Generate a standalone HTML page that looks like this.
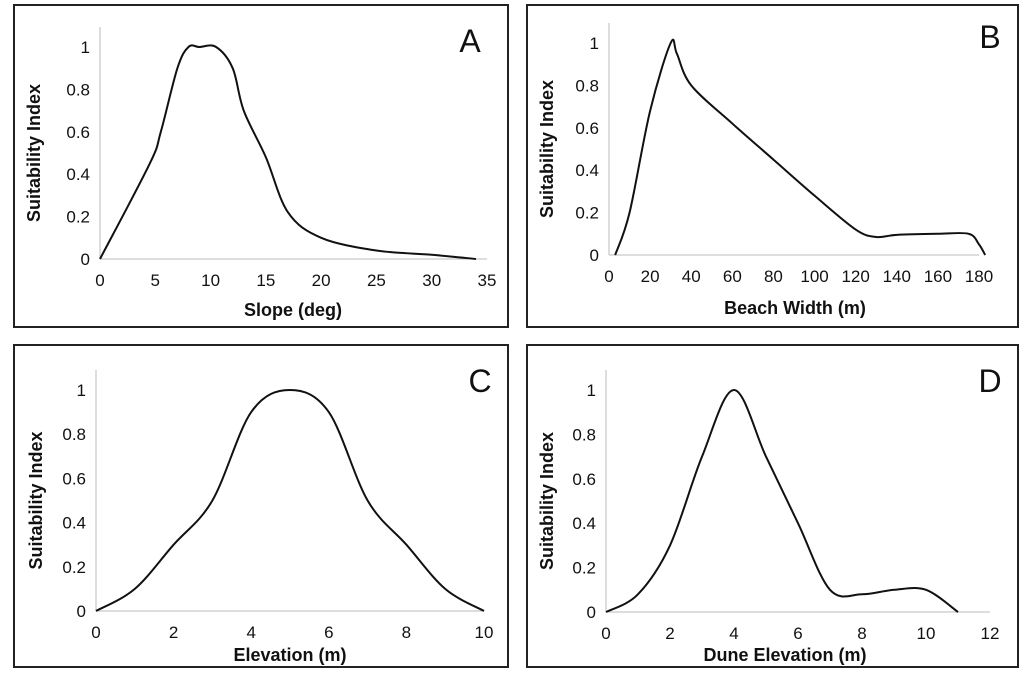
<!DOCTYPE html>
<html><head><meta charset="utf-8"><style>
body{margin:0;background:#fff;width:1024px;height:674px;overflow:hidden}
svg{display:block}
text{font-family:"Liberation Sans",Arial,sans-serif;fill:#111}
</style></head><body>
<svg id="s" width="1024" height="674"></svg>
<script>
const aX=[0,4.5,5.5,7,8,9,10.5,12,13,15,17,20,25,30,34];
const aY=[0,0.45,0.6,0.9,1,1,1,0.9,0.7,0.48,0.22,0.1,0.04,0.02,0];
const bX=[3,10,20,30,33,40,60,80,100,120,130,140,160,175,180,183];
const bY=[0,0.2,0.68,1,0.95,0.8,0.62,0.45,0.28,0.12,0.085,0.095,0.1,0.1,0.05,0];
const cX=[0,1,2,3,4,5,6,7,8,9,10];
const cY=[0,0.1,0.3,0.5,0.9,1,0.9,0.5,0.3,0.1,0];
const dX=[0,1,2,3,4,5,6,7,8,9,10,11];
const dY=[0,0.08,0.3,0.7,1,0.7,0.4,0.1,0.08,0.1,0.1,0];
const aTicks=[0,5,10,15,20,25,30,35];
const bTicks=[0,20,40,60,80,100,120,140,160,180];
const cTicks=[0,2,4,6,8,10];
const dTicks=[0,2,4,6,8,10,12];
const yTicks=[0,0.2,0.4,0.6,0.8,1];
const NS="http://www.w3.org/2000/svg";
const svg=document.getElementById('s');
function el(t,a,p){const e=document.createElementNS(NS,t);for(const k in a)e.setAttribute(k,a[k]);(p||svg).appendChild(e);return e;}
const panels=[
 {id:'a',box:[14,5,494,322],x0:100,x1:487,xmax:35,y0:259,y1:47,xs:aX,ys:aY,ticks:aTicks,title:'Slope (deg)',tx:293,ty:316,yl:40,letter:'A',lx:470,ly:52},
 {id:'b',box:[527,5,491,322],x0:609,x1:979,xmax:180,y0:255,y1:43,xs:bX,ys:bY,ticks:bTicks,title:'Beach Width (m)',tx:795,ty:314,yl:553,letter:'B',lx:990,ly:48},
 {id:'c',box:[14,345,494,322],x0:96,x1:484,xmax:10,y0:611,y1:390,xs:cX,ys:cY,ticks:cTicks,title:'Elevation (m)',tx:290,ty:661,yl:42,letter:'C',lx:480,ly:392},
 {id:'d',box:[527,345,491,322],x0:606,x1:990,xmax:12,y0:612,y1:390,xs:dX,ys:dY,ticks:dTicks,title:'Dune Elevation (m)',tx:785,ty:661,yl:553,letter:'D',lx:990,ly:392}
];
panels.forEach(p=>{
 const g=el('g',{});
 
 
 const r=el('rect',{x:p.box[0],y:p.box[1],width:p.box[2],height:p.box[3],fill:'none',stroke:'#222','stroke-width':2},g);
 
 const sx=v=>p.x0+(v/p.xmax)*(p.x1-p.x0);
 const sy=v=>p.y0+v*(p.y1-p.y0);
 const ax=el('line',{x1:p.x0,y1:p.y0,x2:p.x1,y2:p.y0,stroke:'#bbb','stroke-width':1},g);
 
 const ay=el('line',{x1:p.x0,y1:p.y0,x2:p.x0,y2:p.y1-20,stroke:'#bbb','stroke-width':1},g);
 
 p.ticks.forEach(t=>{const e=el('text',{x:sx(t),y:p.y0+27,'text-anchor':'middle','font-size':17},g);e.textContent=t;
  });
 yTicks.forEach(t=>{const e=el('text',{x:p.x0-10,y:sy(t)+6,'text-anchor':'end','font-size':17},g);e.textContent=t;
  });
 const xt=el('text',{x:p.tx,y:p.ty,'text-anchor':'middle','font-size':18,'font-weight':'bold'},g);xt.textContent=p.title;
 
 const yc=(p.y0+p.y1)/2;
 const yt=el('text',{x:p.yl,y:yc,'text-anchor':'middle','font-size':18,'font-weight':'bold',transform:`rotate(-90 ${p.yl} ${yc})`},g);yt.textContent='Suitability Index';
 
 const lt=el('text',{x:p.lx,y:p.ly,'text-anchor':'middle','font-size':32},g);lt.textContent=p.letter;
 
 const pts=p.xs.map((x,i)=>[sx(x),sy(p.ys[i])]);
 let d='M'+pts[0][0]+','+pts[0][1];
 for(let i=0;i<pts.length-1;i++){
  const p0=pts[i-1]||pts[i],p1=pts[i],p2=pts[i+1],p3=pts[i+2]||p2;
  const c1=[p1[0]+(p2[0]-p0[0])/6,p1[1]+(p2[1]-p0[1])/6];
  const c2=[p2[0]-(p3[0]-p1[0])/6,p2[1]-(p3[1]-p1[1])/6];
  d+=` C${c1[0]},${c1[1]} ${c2[0]},${c2[1]} ${p2[0]},${p2[1]}`;
 }
 const path=el('path',{d:d,fill:'none',stroke:'#111','stroke-width':2},g);
 
 
});
</script>
</body></html>
